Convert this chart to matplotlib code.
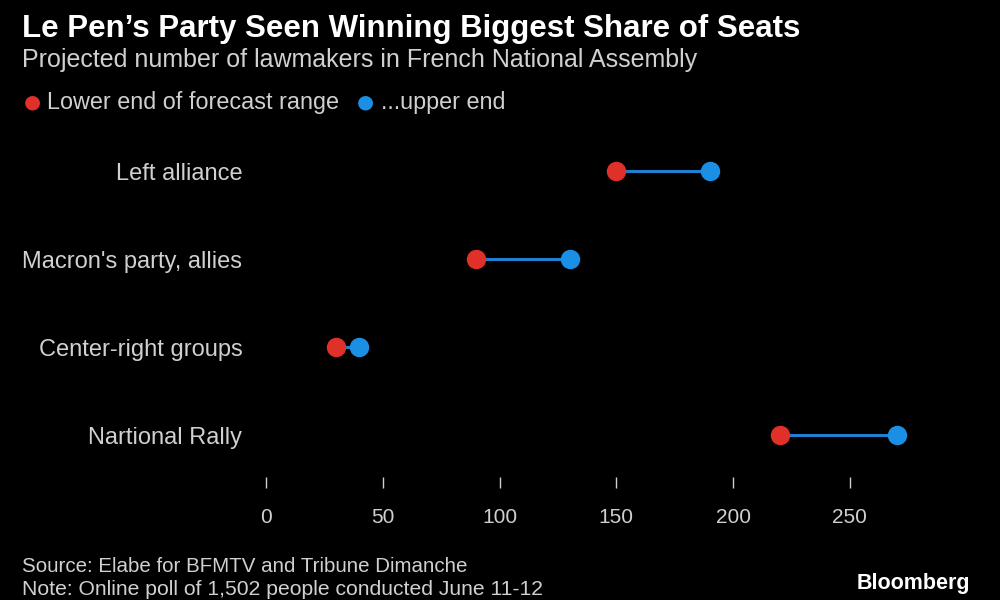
import matplotlib
matplotlib.use('Agg')
import matplotlib.pyplot as plt

plt.rcParams['font.family'] = ['Liberation Sans', 'DejaVu Sans']

# data (bottom to top)
parties = ['Nartional Rally', 'Center-right groups', "Macron's party, allies", 'Left alliance']
lower = [220, 30, 90, 150]
upper = [270, 40, 130, 190]
ticks = [0, 50, 100, 150, 200, 250]

bg = 'black'
red = '#e0302a'
blue = '#1a8fe3'
line_blue = '#1f7fd0'
grey = '#d0d0d0'

fig = plt.figure(figsize=(10, 6), dpi=100, facecolor=bg)
ax = fig.add_axes([0.266, 0.205, 0.654, 0.578], facecolor=bg)

ypos = list(range(len(parties)))
ax.hlines(ypos, lower, upper, color=line_blue, lw=2.2, zorder=1)
ax.plot(lower, ypos, 'o', color=red, ms=13, zorder=2)
ax.plot(upper, ypos, 'o', color=blue, ms=13, zorder=2)

ax.set_xlim(0, 280)
ax.set_ylim(-0.477, 3.466)
ax.set_xticks(ticks)
ax.set_xticklabels([str(t) for t in ticks])
ax.set_yticks(ypos)
ax.set_yticklabels(parties)
ax.tick_params(axis='x', colors=grey, length=8, width=1, pad=14, labelsize=15)
ax.tick_params(axis='y', length=0, pad=17, labelsize=17, labelcolor=grey)
for s in ax.spines.values():
    s.set_visible(False)

fig.text(0.022, 0.952, 'Le Pen\u2019s Party Seen Winning Biggest Share of Seats',
         color='white', fontsize=22.5, fontweight='bold', va='center')
fig.text(0.022, 0.900, 'Projected number of lawmakers in French National Assembly',
         color=grey, fontsize=18, va='center')

# legend
fig.text(0.024, 0.830, '\u25cf', color=red, fontsize=14, va='center', family='DejaVu Sans')
fig.text(0.047, 0.830, 'Lower end of forecast range', color=grey, fontsize=16.8, va='center')
fig.text(0.357, 0.830, '\u25cf', color=blue, fontsize=14, va='center', family='DejaVu Sans')
fig.text(0.381, 0.830, '...upper end', color=grey, fontsize=16.8, va='center')

fig.text(0.022, 0.056, 'Source: Elabe for BFMTV and Tribune Dimanche', color=grey,
         fontsize=14.8, va='center')
fig.text(0.022, 0.018, 'Note: Online poll of 1,502 people conducted June 11-12', color=grey,
         fontsize=15.2, va='center')
fig.text(0.970, 0.027, 'Bloomberg', color='white', fontsize=15.5, fontweight='bold',
         ha='right', va='center')

fig.savefig('out.png', dpi=100, facecolor=bg)
